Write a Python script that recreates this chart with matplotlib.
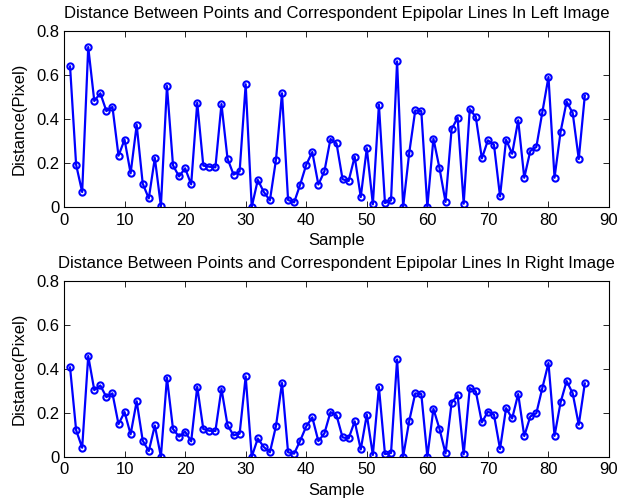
import numpy as np
import matplotlib
matplotlib.use('Agg')
import matplotlib.pyplot as plt

matplotlib.rcParams['font.family'] = 'Liberation Sans'
matplotlib.rcParams['font.size'] = 12

#---------------------------------------------------------------------------------------#
# data
left_dist = [0.639, 0.192, 0.068, 0.727, 0.482, 0.517, 0.436, 0.455, 0.233, 0.306,
             0.153, 0.373, 0.106, 0.039, 0.223, 0.003, 0.550, 0.189, 0.139, 0.176,
             0.103, 0.474, 0.188, 0.183, 0.180, 0.468, 0.220, 0.147, 0.162, 0.558,
             0.000, 0.123, 0.068, 0.030, 0.214, 0.517, 0.032, 0.021, 0.102, 0.192,
             0.250, 0.102, 0.162, 0.309, 0.289, 0.126, 0.118, 0.229, 0.045, 0.267,
             0.012, 0.465, 0.018, 0.030, 0.662, 0.000, 0.245, 0.439, 0.436, 0.000,
             0.311, 0.177, 0.023, 0.353, 0.406, 0.015, 0.445, 0.409, 0.221, 0.303,
             0.283, 0.048, 0.306, 0.242, 0.394, 0.133, 0.255, 0.273, 0.433, 0.591,
             0.133, 0.342, 0.479, 0.427, 0.218, 0.506]
right_dist = [0.406, 0.121, 0.041, 0.458, 0.303, 0.324, 0.271, 0.288, 0.148, 0.203,
              0.102, 0.252, 0.073, 0.026, 0.142, 0.000, 0.359, 0.126, 0.091, 0.114,
              0.070, 0.318, 0.126, 0.118, 0.117, 0.309, 0.144, 0.097, 0.105, 0.365,
              0.000, 0.083, 0.044, 0.020, 0.139, 0.335, 0.020, 0.014, 0.073, 0.138,
              0.179, 0.071, 0.106, 0.203, 0.188, 0.088, 0.083, 0.161, 0.033, 0.191,
              0.008, 0.317, 0.012, 0.017, 0.442, 0.000, 0.162, 0.288, 0.285, 0.000,
              0.218, 0.127, 0.015, 0.245, 0.280, 0.011, 0.312, 0.297, 0.156, 0.205,
              0.191, 0.035, 0.221, 0.174, 0.285, 0.094, 0.183, 0.198, 0.314, 0.426,
              0.095, 0.247, 0.344, 0.288, 0.145, 0.333]
samples = np.arange(1, len(left_dist) + 1)
titles = ['Distance Between Points and Correspondent Epipolar Lines In Left Image',
          'Distance Between Points and Correspondent Epipolar Lines In Right Image']
xticks = np.arange(0, 91, 10)
yticks = [0, 0.2, 0.4, 0.6, 0.8]
#---------------------------------------------------------------------------------------#
fig = plt.figure(figsize=(6.19, 5.04), dpi=100)
ax1 = fig.add_axes([0.1034, 0.5893, 0.8805, 0.3492])
ax2 = fig.add_axes([0.1034, 0.0938, 0.8805, 0.3492])

for ax, d, t in zip([ax1, ax2], [left_dist, right_dist], titles):
    ax.plot(samples, d, '-o', color='#0000ff', lw=1.6, ms=4.5, mfc='none', mew=1.5)
    ax.set_xlim(0, 90)
    ax.set_ylim(0, 0.8)
    ax.set_xticks(xticks)
    ax.set_yticks(yticks)
    ax.set_yticklabels(['0', '0.2', '0.4', '0.6', '0.8'])
    ax.tick_params(direction='in', top=True, right=True, length=4, width=0.6, labelsize=12)
    ax.tick_params(axis='x', pad=4)
    ax.tick_params(axis='y', pad=3)
    for s in ax.spines.values():
        s.set_linewidth(0.8)
    ax.set_title(t, fontsize=12, pad=9)
    ax.set_xlabel('Sample', fontsize=12, labelpad=4)
    ax.set_ylabel('Distance(Pixel)', fontsize=12, labelpad=7)

fig.savefig('out.png', dpi=100)
